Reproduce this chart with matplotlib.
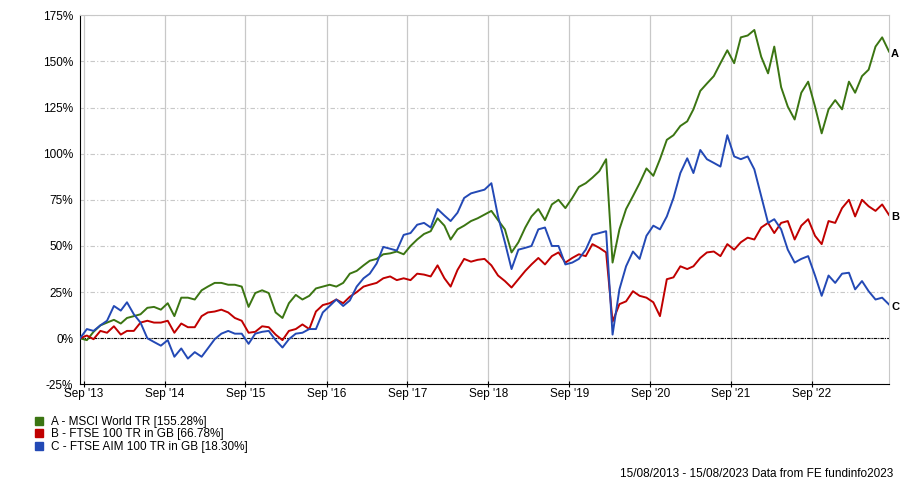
import pandas as pd
import matplotlib.pyplot as plt
import matplotlib.dates as mdates
from matplotlib.lines import Line2D

plt.rcParams['font.family'] = ['Liberation Sans', 'DejaVu Sans']

# monthly points, 15/08/2013 -> 15/08/2023 (values in %)
dates = pd.date_range('2013-08-15', periods=121, freq=pd.DateOffset(months=1))

msci_world = [0, -1, 3.5, 7, 8.5, 10, 8, 11, 12, 13, 16.5, 17, 15.5, 19, 12, 22, 22, 21, 26, 28,
              30, 30, 29, 29, 28, 17, 24.5, 26, 24.5, 14, 11, 19, 23.5, 21, 23, 27, 28, 29, 28, 30,
              35, 36.5, 39.5, 42, 43, 45.5, 46, 47, 45.5, 50, 53.5, 56.5, 58, 65, 61, 53.5, 59, 61, 63.5, 65,
              67, 69, 64, 59, 46.5, 52, 60, 66, 70, 64, 72.5, 75, 70.5, 76, 82, 84, 87, 90.5, 97, 41,
              59, 70, 77, 84, 92, 88, 97, 107.5, 110, 115, 117.5, 124, 134, 138, 142, 149, 156, 149, 163, 164,
              167, 152.5, 143.5, 158, 136, 125.5, 118.5, 133, 139, 125.5, 111, 124, 129, 124, 139, 133, 142, 145.5, 158, 163,
              155.3]

ftse_100 = [0, 1.5, -0.5, 4, 3, 6.5, 2, 4, 4, 8.5, 9.5, 8.5, 8.5, 9.5, 3, 8, 6, 6, 12, 14,
            14.5, 15.5, 14, 11, 9.5, 3, 3.5, 6.5, 6, 2, -1, 4, 5, 7.5, 5, 14.5, 18, 19, 21, 19,
            22.5, 25, 28, 29, 30, 32.5, 33.5, 31.5, 32.5, 31.5, 35, 34.5, 33.5, 39.5, 32.5, 28, 37, 43, 41.5, 42.5,
            43, 39.5, 34, 31, 27.5, 32, 36.5, 40, 43.5, 40, 44.5, 46.5, 41, 43.5, 45.5, 44.5, 51, 49, 46.5, 9,
            18.5, 20, 25.5, 23, 22, 19.5, 12, 32, 33, 39, 37.5, 39, 43.5, 46.5, 47, 44.5, 51, 48, 52, 54.5,
            53.5, 60, 62.5, 57, 62.5, 63.5, 53.5, 61, 64.5, 55.5, 51, 63.5, 62.5, 70.5, 75, 66, 75, 71.5, 69, 72.5,
            66.8]

ftse_aim = [0, 5, 4, 7, 9.5, 17.5, 15, 19.5, 13, 8.5, 0, -2, -4, -1, -10, -5.5, -11, -7.5, -10, -5.5,
            -0.5, 2.5, 4, 2.5, 2.5, -3, 2.5, 3.5, 4, -1, -5, -0.5, 2.5, 3, 5, 5, 14, 17.5, 21, 17.5,
            20.5, 28, 32.5, 35, 40.5, 49.5, 48.5, 47.5, 56, 57, 61.5, 62.5, 60, 70, 66.5, 63.5, 68, 76, 78.5, 79.5,
            80.5, 84, 66, 52, 37.5, 48, 49, 50, 59, 60, 50, 50, 40, 41, 43, 48, 56, 57, 58, 2,
            26.5, 39, 47, 43, 55.5, 61, 59, 66, 76, 89.5, 97.5, 89.5, 102, 97, 95, 93, 110, 98.5, 97, 98.5,
            91.5, 77, 62.5, 64.5, 59, 48, 41, 43, 44.5, 34, 23, 34, 30, 35, 35.5, 26.5, 31, 25.5, 21, 22,
            18.3]

names = ['A - MSCI World TR [155.28%]', 'B - FTSE 100 TR in GB [66.78%]', 'C - FTSE AIM 100 TR in GB [18.30%]']
letters = ['A', 'B', 'C']
colors = ['#3b7512', '#c00000', '#2349b5']
series = [msci_world, ftse_100, ftse_aim]

fig = plt.figure(figsize=(9, 4.84), dpi=100)
ax = fig.add_axes([0.0889, 0.2057, 0.8989, 0.7629])

for vals, c, let in zip(series, colors, letters):
    ax.plot(dates, vals, color=c, lw=1.4, zorder=3)
    ax.annotate(let, xy=(dates[-1], vals[-1]), xytext=(1.5, -1.5), textcoords='offset points',
                fontsize=8, fontweight='bold', va='center', ha='left', annotation_clip=False)

ax.axhline(0, color='black', lw=0.8, ls=(0, (3, 1, 1, 1)), zorder=2)

ax.set_xlim(pd.Timestamp('2013-08-15'), pd.Timestamp('2023-08-15'))
ax.set_ylim(-25, 175)
ax.set_yticks(range(-25, 176, 25))
ax.set_yticklabels([f'{v}%' for v in range(-25, 176, 25)])
ax.xaxis.set_major_locator(mdates.MonthLocator(bymonth=9, bymonthday=1))
ax.xaxis.set_major_formatter(mdates.DateFormatter("Sep '%y"))

ax.grid(axis='y', color='#c8c8c8', ls=(0, (4, 2, 1, 2)), lw=0.8)
ax.grid(axis='x', color='#c8c8c8', ls='-', lw=0.9)
ax.set_axisbelow(True)
ax.tick_params(axis='x', labelsize=8.5, length=4, width=0.8, direction='inout', pad=0.5)
ax.tick_params(axis='y', labelsize=8.5, length=0, pad=5)

for s in ['top', 'right']:
    ax.spines[s].set_color('#c8c8c8')
for s in ['left', 'bottom']:
    ax.spines[s].set_color('black')

handles = [Line2D([], [], marker='s', ls='none', color=c, markersize=6) for c in colors]
fig.legend(handles, names, loc='upper left', bbox_to_anchor=(0.035, 0.14), frameon=False,
           fontsize=8.5, handletextpad=0.45, labelspacing=0.02, handlelength=1.2, borderaxespad=0,
           borderpad=0)

fig.text(0.992, 0.021, '15/08/2013 - 15/08/2023 Data from FE fundinfo2023', fontsize=8.5, ha='right', va='center')

plt.savefig('out.png', dpi=100)
